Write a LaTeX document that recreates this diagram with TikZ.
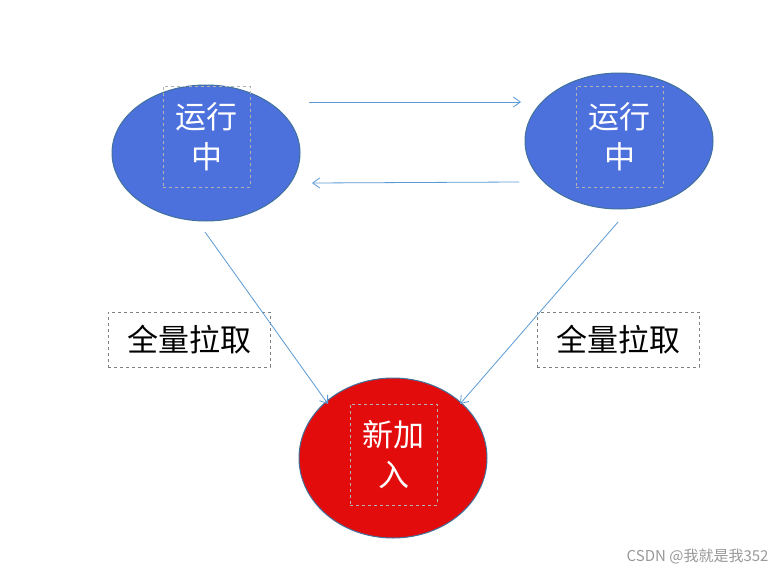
\documentclass[tikz,border=0pt]{standalone}
\usepackage{fontspec}
\newfontfamily\cjk{Noto Sans CJK SC}
\usetikzlibrary{arrows.meta}
\definecolor{bfill}{RGB}{76,112,220}
\definecolor{bdraw}{RGB}{65,113,156}
\definecolor{rfill}{RGB}{226,12,12}
\definecolor{arr}{RGB}{91,155,213}
\begin{document}
\begin{tikzpicture}[x=1pt,y=-1pt,
  st/.style={ellipse,draw=bdraw,line width=1pt},
  inner/.style={draw=gray!60,dashed,minimum width=87pt,minimum height=101pt,text=white,font=\cjk\fontsize{31}{40}\selectfont,align=center,inner sep=0pt},
  lab/.style={draw=gray,dashed,minimum width=162pt,minimum height=55pt,font=\cjk\fontsize{31}{40}\selectfont,inner sep=0pt},
  ar/.style={draw=arr,-{Straight Barb[length=7pt,width=10pt]},line width=0.8pt}]
\useasboundingbox (0,0) rectangle (784,578);
\fill[white] (0,0) rectangle (784,578);
\fill[bfill] (206,153) ellipse [x radius=94,y radius=68];
\draw[bdraw,line width=1pt] (206,153) ellipse [x radius=94,y radius=68];
\fill[bfill] (619,141) ellipse [x radius=94,y radius=68];
\draw[bdraw,line width=1pt] (619,141) ellipse [x radius=94,y radius=68];
\fill[rfill] (393,458) ellipse [x radius=94,y radius=80];
\draw[bdraw,line width=1pt] (393,458) ellipse [x radius=94,y radius=80];
\node[inner] (a) at (206.5,136.5) {运行\\中};
\node[inner] (b) at (619.5,136.5) {运行\\中};
\node[inner] (c) at (393.5,454.5) {新加\\入};
\node[lab] (l1) at (189,339.5) {全量拉取};
\node[lab] (l2) at (618,339.5) {全量拉取};
\coordinate (p1) at (309,102); \coordinate (p2) at (521,102);
\coordinate (p3) at (519,182); \coordinate (p4) at (312,183);
\coordinate (p5) at (205,232); \coordinate (p6) at (328,404);
\coordinate (p7) at (618,222); \coordinate (p8) at (460,404);
\draw[ar] (p1) -- (p2);
\draw[ar] (p3) -- (p4);
\draw[ar] (p5) -- (p6);
\draw[ar] (p7) -- (p8);
\node[font=\cjk\fontsize{15}{18}\selectfont,text=gray!80,anchor=east] (w) at (772,556) {CSDN @我就是我352};
\end{tikzpicture}
\end{document}
